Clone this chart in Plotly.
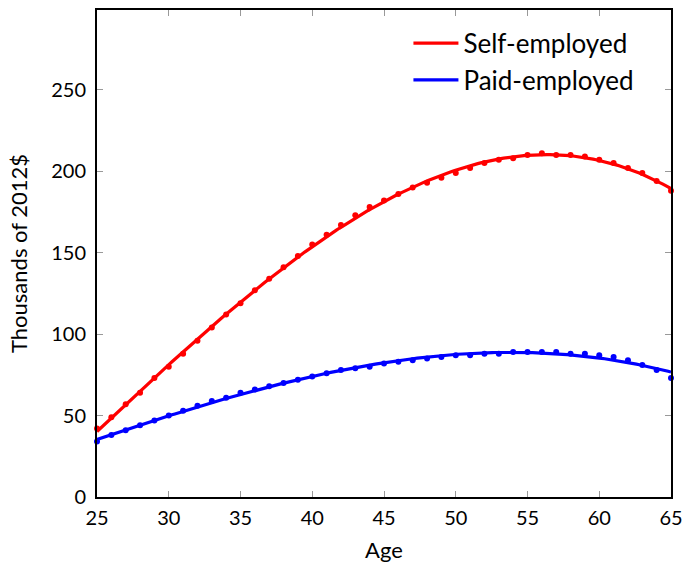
import numpy as np
import plotly.graph_objects as go

ages = list(range(25, 66))

self_employed = [42, 49, 57, 64, 73, 80, 88, 96, 104, 112,
                 119, 127, 134, 141, 148, 155, 161, 167, 173, 178,
                 182, 186, 190, 193, 196, 199, 202, 205, 207, 208,
                 210, 211, 210, 210, 209, 207, 205, 202, 199, 194, 188]

paid_employed = [34, 38, 41, 44, 47, 50, 53, 56, 59, 61,
                 64, 66, 68, 70, 72, 74, 76, 78, 79, 80,
                 82, 83, 84, 85, 86, 87, 87, 88, 88, 89,
                 89, 89, 89, 88, 88, 87, 86, 84, 81, 78, 73]

x_ticks = [25, 30, 35, 40, 45, 50, 55, 60, 65]
y_ticks = [0, 50, 100, 150, 200, 250]

series = [("Self-employed", self_employed, "#ff0000"),
          ("Paid-employed", paid_employed, "#0000ff")]

fig = go.Figure()
x_fine = np.linspace(25, 65, 200)
for name, vals, color in series:
    # cubic least-squares fit through the age profile
    coef = np.polyfit(ages, vals, 3)
    fig.add_trace(go.Scatter(x=ages, y=vals, mode="markers",
                             marker=dict(color=color, size=6),
                             showlegend=False, cliponaxis=False))
    fig.add_trace(go.Scatter(x=x_fine, y=np.polyval(coef, x_fine), mode="lines",
                             line=dict(color=color, width=3.2),
                             name=name, cliponaxis=False))

font_family = "Lato, sans-serif"
axis_common = dict(showline=True, linecolor="black", linewidth=2, mirror="ticks",
                   ticks="inside", ticklen=6, tickcolor="#999999", tickwidth=1,
                   showgrid=False, zeroline=False, automargin=False,
                   tickfont=dict(size=20, color="black", family=font_family))

fig.update_layout(
    width=686, height=568,
    margin=dict(l=97, r=15, t=10, b=71),
    paper_bgcolor="white", plot_bgcolor="white",
    font=dict(family=font_family, color="black"),
    xaxis=dict(range=[25, 65], tickvals=x_ticks, ticklabelstandoff=2,
               title=dict(text="Age", font=dict(size=22), standoff=15), **axis_common),
    yaxis=dict(range=[0, 299], tickvals=y_ticks, ticklabelstandoff=5,
               title=dict(text="Thousands of 2012$", font=dict(size=22), standoff=17), **axis_common),
    legend=dict(x=0.945, y=0.98, xanchor="right", yanchor="top",
                bgcolor="rgba(255,255,255,0)", font=dict(size=26),
                itemwidth=45, tracegroupgap=0),
)

fig.write_html("out.html")
